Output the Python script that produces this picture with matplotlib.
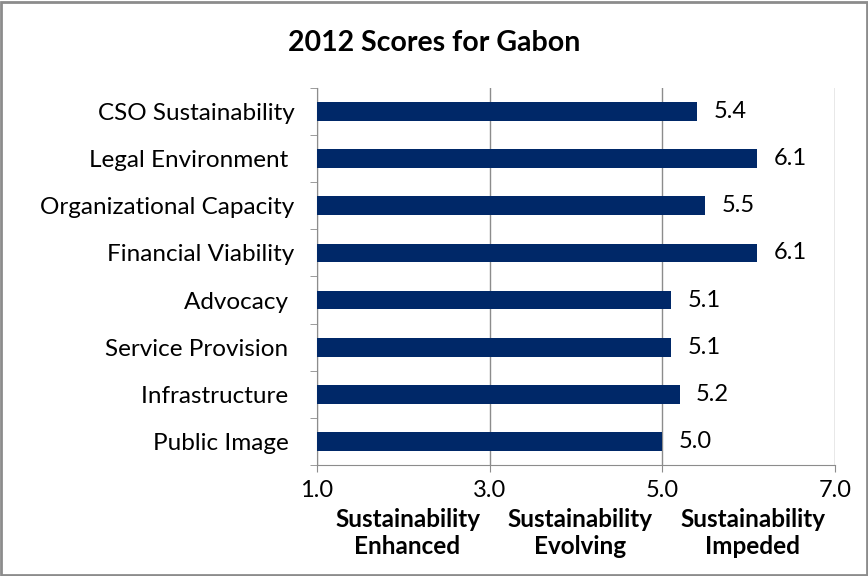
import matplotlib.pyplot as plt

categories = ['CSO Sustainability', 'Legal Environment ', 'Organizational Capacity',
              'Financial Viability', 'Advocacy ', 'Service Provision ',
              'Infrastructure ', 'Public Image ']
scores = [5.4, 6.1, 5.5, 6.1, 5.1, 5.1, 5.2, 5.0]
xticks = [1.0, 3.0, 5.0, 7.0]
zones = ['Sustainability\nEnhanced', 'Sustainability\nEvolving', 'Sustainability\nImpeded']
zone_centers = [2.05, 4.05, 6.05]

plt.rcParams['font.family'] = ['Lato', 'DejaVu Sans']
navy = '#002868'
gray = '#8c8c8c'

fig = plt.figure(figsize=(8.68, 5.76), dpi=100)
fig.patches.append(plt.Rectangle((0.001, 0.001), 0.998, 0.996, transform=fig.transFigure,
                                 fill=False, edgecolor=gray, linewidth=2))
ax = fig.add_axes([0.365, 0.193, 0.597, 0.654])

ypos = list(range(len(categories)))[::-1]
bars = ax.barh(ypos, [s - 1 for s in scores], left=1, height=0.4, color=navy, zorder=3)
for y, s in zip(ypos, scores):
    ax.text(s + 0.19, y, '%.1f' % s, va='center', ha='left', fontsize=17)

ax.set_xlim(1, 7)
ax.set_ylim(-0.5, len(categories) - 0.5)
ax.set_xticks(xticks)
ax.set_xticklabels(['%.1f' % t for t in xticks], fontsize=17)
ax.set_yticks(ypos)
ax.set_yticklabels(categories, fontsize=17.5)
ax.set_yticks([i - 0.5 for i in range(len(categories) + 1)], minor=True)
ax.tick_params(axis='y', which='major', length=0, pad=16)
ax.tick_params(axis='y', which='minor', length=5, color=gray)
ax.tick_params(axis='x', length=5, color=gray, pad=6)

for s in ['top', 'right']:
    ax.spines[s].set_visible(False)
for s in ['left', 'bottom']:
    ax.spines[s].set_color(gray)
ax.grid(axis='x', color=gray, linewidth=1, zorder=0)

for xc, z in zip(zone_centers, zones):
    ax.annotate(z, xy=(xc, 0), xycoords=('data', 'axes fraction'),
                xytext=(0, -31), textcoords='offset points', ha='center', va='top',
                fontsize=17.5, fontweight='bold', linespacing=1.2)

fig.text(0.5, 0.925, '2012 Scores for Gabon', ha='center', va='center',
         fontsize=20.5, fontweight='bold')

plt.savefig('out.png', dpi=100)
